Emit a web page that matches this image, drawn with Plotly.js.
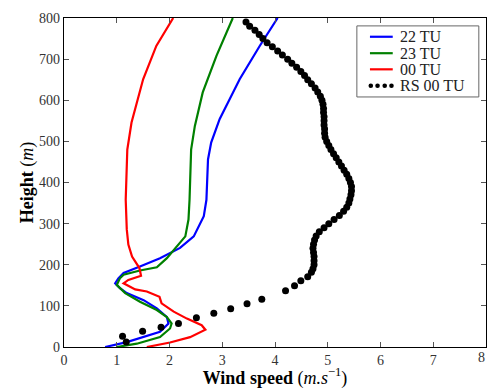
<!DOCTYPE html>
<html>
<head>
<meta charset="utf-8">
<script src="https://cdn.plot.ly/plotly-3.0.1.min.js"></script>
<style>html,body{margin:0;padding:0;background:#fff;}</style>
</head>
<body>
<div id="chart" style="width:487px;height:389px;"></div>
<script>
// 22 TU
const speed22 = [0.78,1.19,1.82,1.98,1.95,1.76,1.51,1.19,1.06,0.97,1.03,1.13,1.44,1.82,2.20,2.46,2.65,2.70,2.73,2.79,2.95,3.33,3.71,4.05];
const height22 = [0,12,37,57,73,94,114,131,143,155,167,180,196,216,241,269,318,358,456,497,554,651,732,800];
// 23 TU
const speed23 = [1.00,1.38,1.82,2.01,2.04,1.95,1.76,1.44,1.16,1.00,1.06,1.13,1.44,1.76,1.95,2.14,2.30,2.36,2.38,2.41,2.48,2.63,2.89,3.20];
const height23 = [0,8,24,45,57,73,90,110,131,151,167,176,186,194,216,245,269,310,358,480,537,619,708,800];
// 00 TU
const speed00 = [1.57,2.01,2.39,2.68,2.61,2.33,2.08,1.85,1.81,1.57,1.35,1.13,1.22,1.46,1.43,1.29,1.22,1.19,1.17,1.20,1.28,1.50,1.75,2.07];
const height00 = [0,11,24,42,53,69,86,106,122,135,140,155,163,173,192,220,249,286,358,480,546,651,732,800];
// RS 00 TU (radiosonde)
const speedRS = [1.18,1.11,1.49,1.84,2.17,2.51,2.84,3.16,3.47,3.75,4.20,4.37,4.49,4.62,4.69,4.72,4.74,4.74,4.74,4.73,4.72,4.73,4.75,4.78,4.84,4.93,5.02,5.12,5.22,5.30,5.36,5.40,5.42,5.44,5.45,5.45,5.43,5.40,5.36,5.31,5.26,5.21,5.16,5.11,5.06,5.02,4.98,4.95,4.94,4.94,4.93,4.93,4.93,4.92,4.92,4.91,4.89,4.86,4.81,4.76,4.69,4.62,4.56,4.49,4.41,4.32,4.24,4.14,4.05,3.95,3.85,3.77,3.70,3.62,3.52,3.45];
const heightRS = [12,26,38,48,57,71,82,93,105,116,137,149,161,171,182,190,200,210,220,230,240,250,260,270,280,290,300,310,320,330,340,350,360,370,380,390,400,410,420,430,440,450,460,470,480,490,500,510,520,530,540,550,560,570,580,590,600,610,620,630,640,650,660,670,680,690,700,710,720,730,740,750,760,770,780,790];
const xTickValues = [0,1,2,3,4,5,6,7,8];
const seriesNames = ["22 TU", "23 TU", "00 TU", "RS 00 TU"];
const seriesColors = ["#0000ff", "#008000", "#ff0000", "#000000"];

const serif = "Liberation Serif, DejaVu Serif, serif";

const traces = [
  {x: speed22, y: height22, name: seriesNames[0], mode: "lines", line: {color: seriesColors[0], width: 2.2}},
  {x: speed23, y: height23, name: seriesNames[1], mode: "lines", line: {color: seriesColors[1], width: 2.2}},
  {x: speed00, y: height00, name: seriesNames[2], mode: "lines", line: {color: seriesColors[2], width: 2.2}},
  {x: speedRS, y: heightRS, name: seriesNames[3], mode: "markers", marker: {color: seriesColors[3], size: 7}}
];

const axisCommon = {
  showgrid: false, zeroline: false, showline: true, linecolor: "#000", linewidth: 1.2,
  mirror: "ticks", ticks: "inside", ticklen: 5, tickwidth: 1, tickcolor: "#555",
  tickfont: {family: serif, size: 14, color: "#333"}
};

// Custom legend (matplotlib style: line samples, dotted marker sample)
const legRowsY = [0.943, 0.893, 0.844, 0.794];
const shapes = [
  {type: "rect", xref: "paper", yref: "paper", x0: 0.694, x1: 0.983, y0: 0.760, y1: 0.976,
   line: {color: "#666", width: 1}, fillcolor: "#fff", layer: "above"}
];
const annotations = [
  {x: xTickValues[8], xref: "x", y: 0, yref: "paper", yanchor: "top", xanchor: "right", xshift: 1, yshift: -1,
   text: String(xTickValues[8]), showarrow: false, font: {family: serif, size: 14, color: "#333"}}
];
seriesNames.forEach((nm, i) => {
  if (i < 3) {
    shapes.push({type: "line", xref: "paper", yref: "paper", x0: 0.725, x1: 0.779, y0: legRowsY[i], y1: legRowsY[i],
      line: {color: seriesColors[i], width: 2.2}, layer: "above"});
  } else {
    [0.727, 0.743, 0.760, 0.776].forEach(px => {
      shapes.push({type: "circle", xref: "paper", yref: "paper", xsizemode: "pixel", ysizemode: "pixel",
        xanchor: px, yanchor: legRowsY[i], x0: -2.3, x1: 2.3, y0: -2.3, y1: 2.3,
        fillcolor: seriesColors[i], line: {width: 0}, layer: "above"});
    });
  }
  annotations.push({x: 0.792, xref: "paper", y: legRowsY[i], yref: "paper", xanchor: "left", yanchor: "middle",
    text: nm, showarrow: false, font: {family: serif, size: 16, color: "#222"}});
});

const layout = {
  width: 487, height: 389,
  margin: {l: 64, r: 1, t: 18, b: 42},
  paper_bgcolor: "#fff", plot_bgcolor: "#fff",
  showlegend: false,
  xaxis: Object.assign({}, axisCommon, {
    range: [0, 8], tickmode: "array", tickvals: xTickValues.slice(0, 8), ticktext: xTickValues.slice(0, 8).map(String),
    title: {text: "<b>Wind speed</b> (<i>m.s</i><sup>−1</sup>)", font: {family: serif, size: 18, color: "#000"}, standoff: 2}
  }),
  yaxis: Object.assign({}, axisCommon, {
    range: [0, 800], dtick: 100, tick0: 0,
    title: {text: "<b>Height</b> (<i>m</i>)", font: {family: serif, size: 18, color: "#000"}, standoff: 0}
  }),
  shapes: shapes,
  annotations: annotations
};

Plotly.newPlot("chart", traces, layout, {displayModeBar: false, staticPlot: true});
</script>
</body>
</html>
